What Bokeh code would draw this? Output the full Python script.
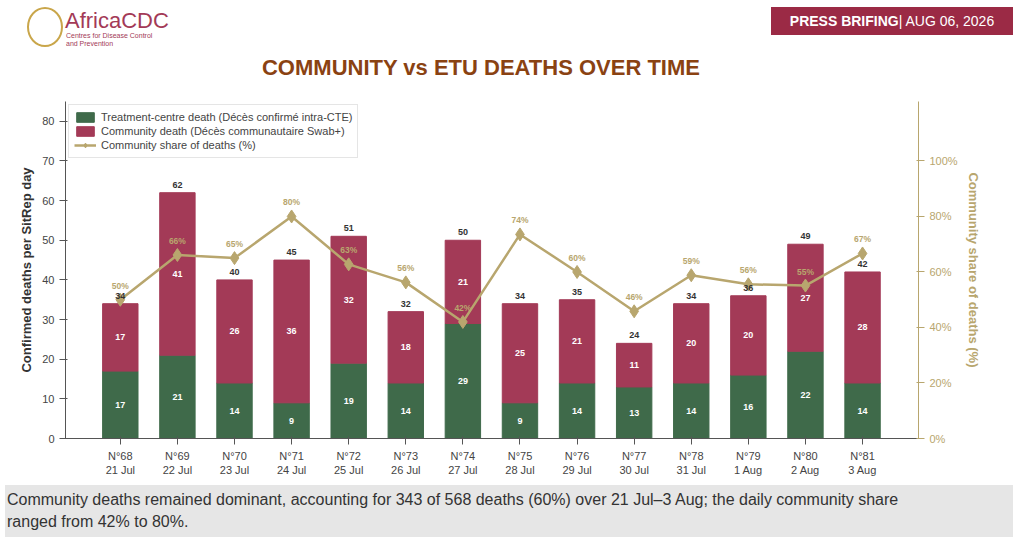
from bokeh.plotting import figure
from bokeh.models import (ColumnDataSource, Range1d, LinearAxis, LabelSet, Legend,
                          LegendItem, Div, FixedTicker)
from bokeh.layouts import column
from bokeh.embed import file_html
from bokeh.resources import INLINE

sitrep = ["N°68", "N°69", "N°70", "N°71", "N°72", "N°73", "N°74",
          "N°75", "N°76", "N°77", "N°78", "N°79", "N°80", "N°81"]
dates = ["21 Jul", "22 Jul", "23 Jul", "24 Jul", "25 Jul", "26 Jul", "27 Jul",
         "28 Jul", "29 Jul", "30 Jul", "31 Jul", "1 Aug", "2 Aug", "3 Aug"]
etu = [17, 21, 14, 9, 19, 14, 29, 9, 14, 13, 14, 16, 22, 14]
community = [17, 41, 26, 36, 32, 18, 21, 25, 21, 11, 20, 20, 27, 28]
share_labels = [50, 66, 65, 80, 63, 56, 42, 74, 60, 46, 59, 56, 55, 67]

GREEN = "#3f6a4a"
MAROON = "#a33a57"
GOLD = "#b8a66e"

x = list(range(len(sitrep)))
total = [a + b for a, b in zip(etu, community)]
share = [100.0 * c / t for c, t in zip(community, total)]
src = ColumnDataSource(dict(
    x=x, etu=etu, total=total, community=community, share=share,
    etu_mid=[e / 2 for e in etu],
    com_mid=[e + c / 2 for e, c in zip(etu, community)],
    etu_txt=[str(v) for v in etu], com_txt=[str(v) for v in community],
    tot_txt=[str(v) for v in total],
    share_txt=[f"{v}%" for v in share_labels],
))

header = Div(width=1008, height=84, text="""
<div style="position:relative;width:1008px;height:84px;font-family:'Liberation Sans',Arial,sans-serif;">
 <div style="position:absolute;left:22px;top:2px;width:36px;height:40px;border-radius:50%;border:2px solid #c9a64a;"></div>
 <div style="position:absolute;left:60px;top:0px;font-size:22px;color:#a33a57;">AfricaCDC</div>
 <div style="position:absolute;left:61px;top:27px;font-size:7px;line-height:8px;color:#a33a57;">Centres for Disease Control<br>and Prevention</div>
 <div style="position:absolute;left:766px;top:2px;width:242px;height:28px;background:#9b2a45;color:white;font-size:14px;line-height:28px;text-align:center;"><b>PRESS BRIFING</b>| AUG 06, 2026</div>
 <div style="position:absolute;left:0;top:47px;width:952px;text-align:center;font-size:22px;font-weight:bold;color:#8a4212;">COMMUNITY vs ETU DEATHS OVER TIME</div>
</div>""")

p = figure(width=1008, height=382, output_backend="svg", toolbar_location=None,
           x_range=Range1d(-0.96, 13.98), y_range=Range1d(0, 85),
           min_border_left=65, min_border_right=90, min_border_top=5, min_border_bottom=40)
p.outline_line_color = None
p.grid.visible = False
p.extra_y_ranges = {"pct": Range1d(0, 340 / 2.8)}

b1 = p.vbar(x="x", top="etu", bottom=0, width=0.62, color=GREEN, source=src)
b2 = p.vbar(x="x", top="total", bottom="etu", width=0.62, color=MAROON, source=src)
ln = p.line("x", "share", y_range_name="pct", color=GOLD, line_width=2.5, source=src)
sc = p.scatter("x", "share", y_range_name="pct", marker="diamond", size=13, color=GOLD, source=src)

p.add_layout(LabelSet(x="x", y="etu_mid", text="etu_txt", source=src, text_align="center",
                      text_baseline="middle", text_color="white", text_font_size="9px",
                      text_font_style="bold"))
p.add_layout(LabelSet(x="x", y="com_mid", text="com_txt", source=src, text_align="center",
                      text_baseline="middle", text_color="white", text_font_size="9px",
                      text_font_style="bold"))
p.add_layout(LabelSet(x="x", y="total", text="tot_txt", source=src, text_align="center",
                      y_offset=5, text_color="#333333", text_font_size="9px",
                      text_font_style="bold"))
p.add_layout(LabelSet(x="x", y="share", y_range_name="pct", text="share_txt", source=src,
                      text_align="center", y_offset=9, text_color=GOLD, text_font_size="8.5px",
                      text_font_style="bold"))

p.xaxis.ticker = FixedTicker(ticks=x)
p.xaxis.major_label_overrides = {i: f"{s}\n{d}" for i, (s, d) in enumerate(zip(sitrep, dates))}
p.yaxis.ticker = FixedTicker(ticks=list(range(0, 90, 10)))
p.yaxis.axis_label = "Confirmed deaths per SitRep day"
p.yaxis.axis_label_text_font_style = "bold"
p.yaxis.axis_label_text_font_size = "13px"
p.yaxis.axis_label_text_color = "#333333"
for ax in (p.xaxis[0], p.yaxis[0]):
    ax.minor_tick_line_color = None
    ax.axis_line_color = "#555555"
    ax.major_tick_line_color = "#555555"
    ax.major_label_text_font_size = "11px"
    ax.major_label_text_color = "#444444"

ra = LinearAxis(y_range_name="pct", ticker=FixedTicker(ticks=[0, 20, 40, 60, 80, 100]),
                axis_label="Community share of deaths (%)")
ra.major_label_overrides = {v: f"{v}%" for v in range(0, 120, 20)}
ra.axis_line_color = GOLD
ra.major_tick_line_color = GOLD
ra.minor_tick_line_color = None
ra.major_label_text_color = GOLD
ra.major_label_text_font_size = "11px"
ra.axis_label_text_color = GOLD
ra.axis_label_text_font_style = "bold"
ra.axis_label_text_font_size = "13px"
p.add_layout(ra, "right")

legend = Legend(items=[
    LegendItem(label="Treatment-centre death (Décès confirmé intra-CTE)", renderers=[b1]),
    LegendItem(label="Community death (Décès communautaire Swab+)", renderers=[b2]),
    LegendItem(label="Community share of deaths (%)", renderers=[ln, sc]),
], location="top_left", label_text_font_size="11px", spacing=0, padding=5,
    label_height=14, glyph_height=12, glyph_width=22, border_line_color="#cccccc",
    margin=3)
p.add_layout(legend)

caption = Div(width=1008, height=52, text="""
<div style="width:1008px;height:52px;background:#e6e6e6;color:#333;font-family:'Liberation Sans',Arial,sans-serif;font-size:16px;line-height:22px;padding:4px 70px 4px 2px;box-sizing:border-box;">
Community deaths remained dominant, accounting for 343 of 568 deaths (60%) over 21 Jul–3 Aug; the daily community share ranged from 42% to 80%.</div>""")

layout = column(header, p, caption, spacing=2)
open("out.html", "w").write(file_html(layout, INLINE))
